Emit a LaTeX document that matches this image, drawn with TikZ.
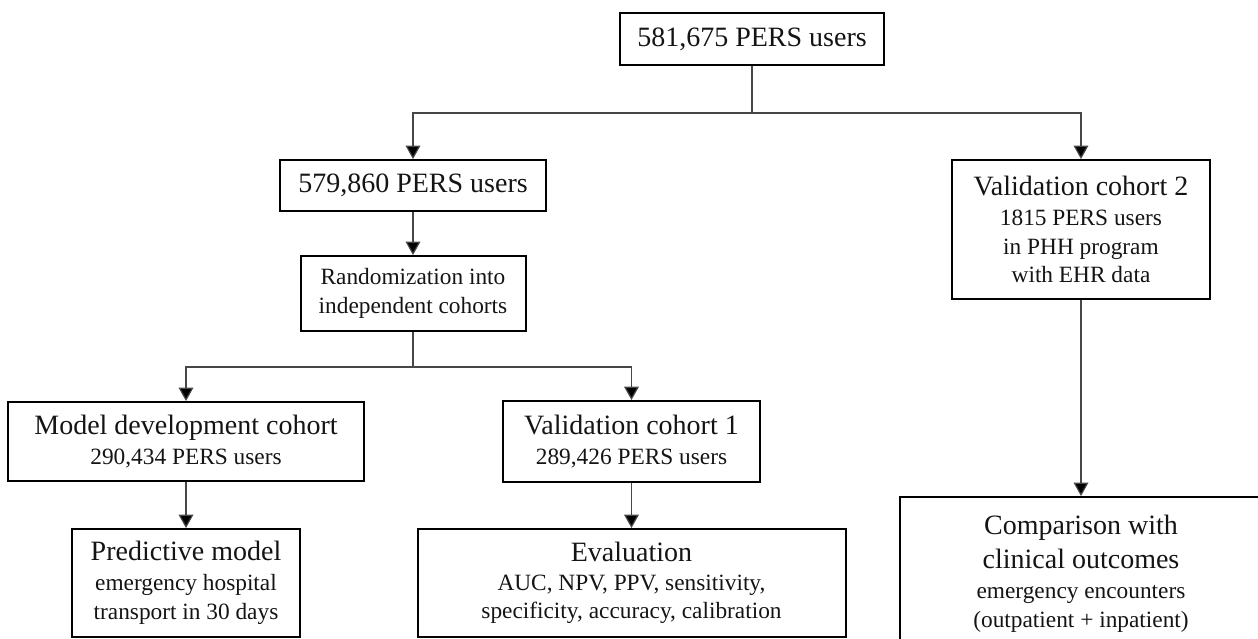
\documentclass[tikz,border=0pt]{standalone}
\usepackage{fontspec}
\setmainfont{Liberation Serif}
\usetikzlibrary{arrows.meta}
\newcommand\BigTxt{\fontsize{21}{25.5}\selectfont}
\begin{document}
\begin{tikzpicture}[x=0.75pt,y=-0.75pt,
  box/.style={draw=black, line width=1.5pt, inner sep=0pt, align=center,
              font=\fontsize{17.5}{21.5}\selectfont, text=black!92},
  sz/.style 2 args={minimum width={#1*0.75pt}, minimum height={#2*0.75pt}},
  wire/.style={draw=black!72, line width=0.9pt},
  arr/.style={wire, -{Triangle[length=10pt,width=11pt,fill=black]}}]
\useasboundingbox (0,0) rectangle (1258,639);
\clip (0,0) rectangle (1258,639);

\node[box, sz={264}{52}] (top) at (752,39) {\BigTxt 581,675 PERS users};
\node[box, sz={266}{51}] (b579) at (413,185.5) {\BigTxt 579,860 PERS users};
\node[box, sz={225}{75}] (rand) at (413,293.5) {Randomization into\\independent cohorts};
\node[box, sz={258}{139}] (val2) at (1081,229.5)
  {{\BigTxt Validation cohort 2}\\[1pt]1815 PERS users\\in PHH program\\with EHR data};
\node[box, sz={356}{79}] (modeldev) at (186,441.5)
  {{\BigTxt Model development cohort}\\[1pt]290,434 PERS users};
\node[box, sz={257}{81}] (val1) at (631.5,441.5)
  {{\BigTxt Validation cohort 1}\\[1pt]289,426 PERS users};
\node[box, sz={228}{108}] (pred) at (186,583)
  {{\BigTxt Predictive model}\\[1pt]emergency hospital\\transport in 30 days};
\node[box, sz={428}{108}] (eval) at (631.5,583)
  {{\BigTxt Evaluation}\\AUC, NPV, PPV, sensitivity,\\specificity, accuracy, calibration};
\node[box, sz={362}{154}] (comp) at (1081,574)
  {{\BigTxt Comparison with}\\[4pt]{\BigTxt clinical outcomes}\\[1pt]emergency encounters\\(outpatient + inpatient)};

\coordinate (j1) at (752,113);
\coordinate (j2) at (413,367);
\draw[wire] (top) -- (j1);
\draw[arr] (j1) -| (b579);
\draw[arr] (j1) -| (val2);
\draw[arr] (b579) -- (rand);
\draw[wire] (rand) -- (j2);
\draw[arr] (j2) -| (modeldev);
\draw[arr] (j2) -| (val1);
\draw[arr] (modeldev) -- (pred);
\draw[arr] (val1) -- (eval);
\draw[arr] (val2) -- (comp);
\end{tikzpicture}
\end{document}
